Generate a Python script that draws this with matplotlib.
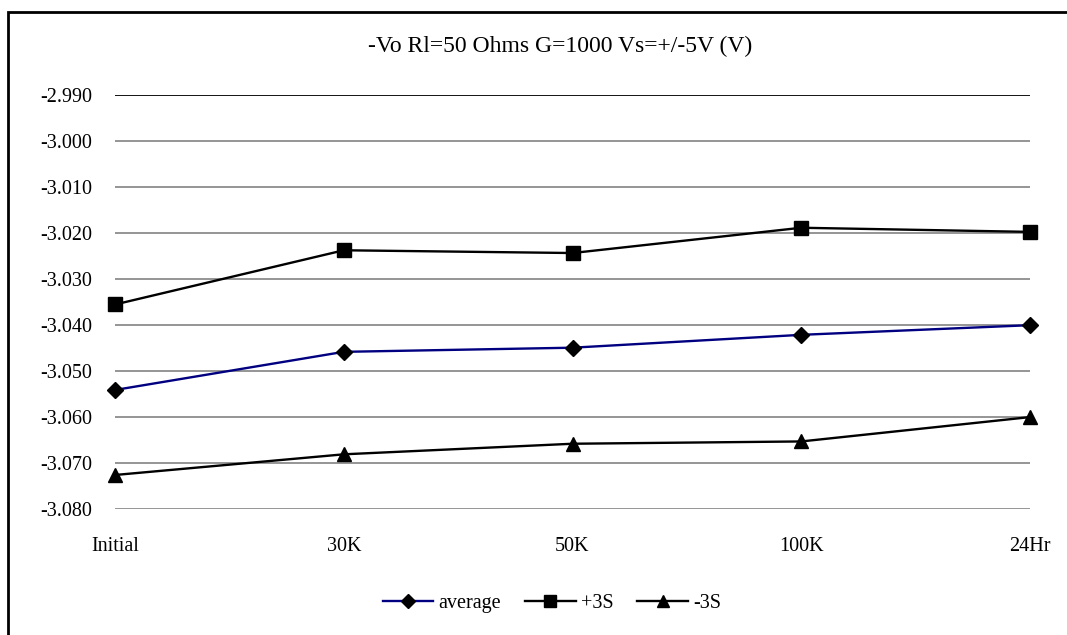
import matplotlib
matplotlib.use("Agg")
import matplotlib.pyplot as plt
from matplotlib.patches import Rectangle

categories = ["Initial", "30K", "50K", "100K", "24Hr"]
average = [-3.0541, -3.0458, -3.0449, -3.0421, -3.0400]
plus3s = [-3.0355, -3.0237, -3.0243, -3.0188, -3.0197]
minus3s = [-3.0726, -3.0681, -3.0658, -3.0653, -3.0600]
yticks = [-3.080, -3.070, -3.060, -3.050, -3.040, -3.030, -3.020, -3.010, -3.000, -2.990]

plt.rcParams['font.family'] = ['Liberation Serif', 'DejaVu Serif']

W, H = 1067, 635
fig = plt.figure(figsize=(W / 100, H / 100), dpi=100)
ax = fig.add_axes([115 / W, 1 - 509 / H, (1030 - 115) / W, (509 - 95.4) / H])

x = list(range(len(categories)))
ax.plot(x, average, color="#000080", lw=1.7, marker="D", ms=8, mfc="black", mec="black",
        label="average", zorder=3, clip_on=False)
ax.plot(x, plus3s, color="black", lw=1.7, marker="s", ms=10, mfc="black", mec="black",
        label="+3S", zorder=3, clip_on=False)
ax.plot(x, minus3s, color="black", lw=1.7, marker="^", ms=10, mfc="black", mec="black",
        label="-3S", zorder=3, clip_on=False)

ax.set_xlim(0, 4)
ax.set_ylim(-3.080, -2.990)
ax.set_yticks(yticks)
ax.set_yticklabels([f"{v:.3f}" for v in yticks])
ax.set_xticks(x)
ax.set_xticklabels(categories)
ax.tick_params(axis="both", length=0, labelsize=14.5, colors="black")
ax.tick_params(axis="y", pad=16.5)
ax.tick_params(axis="x", pad=20)
for s in ax.spines.values():
    s.set_visible(False)
ax.yaxis.grid(True, color="#8c8c8c", lw=1.3)
ax.set_axisbelow(True)
ax.axhline(-2.990, color="black", lw=1.2, zorder=1)

fig.text(560 / W, 1 - 46 / H, "-Vo Rl=50 Ohms G=1000 Vs=+/-5V (V)", ha="center", va="center", fontsize=17)

leg = fig.legend(loc="center", bbox_to_anchor=(552 / W, 1 - 603 / H), ncol=3, frameon=False,
                 fontsize=14.5, handlelength=2.5, columnspacing=1.2, handletextpad=0.25, markerscale=0.85)

fig.patches.append(Rectangle((8 / W, -0.1), 1.2, 1 - 12 / H + 0.1, transform=fig.transFigure,
                             fill=False, ec="black", lw=2.0))

fig.savefig("out.png", dpi=100)
